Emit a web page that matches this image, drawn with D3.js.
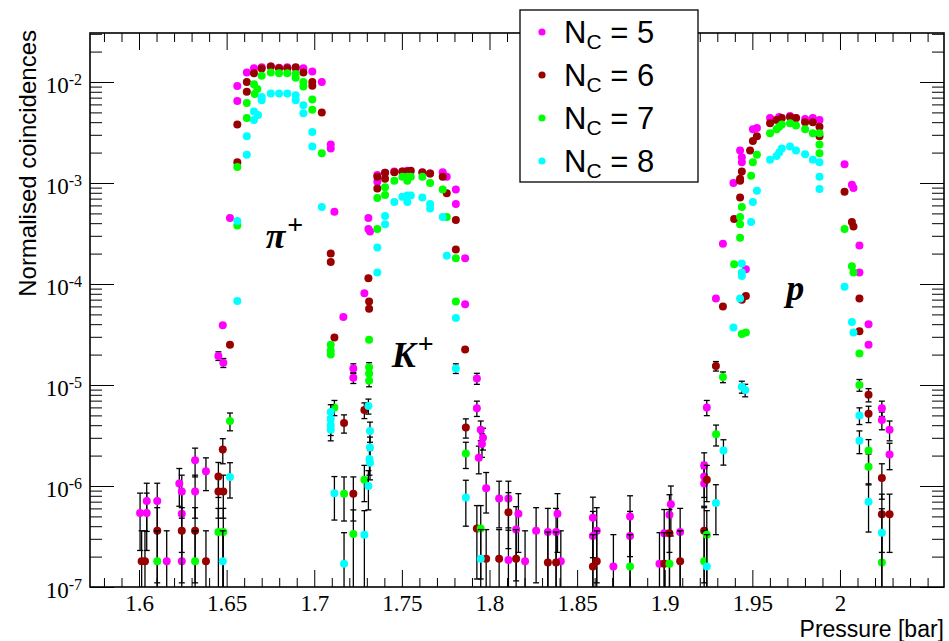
<!DOCTYPE html>
<html><head><meta charset="utf-8">
<script src="https://cdn.jsdelivr.net/npm/d3@7"></script>
<style>body{margin:0;background:#fff} svg{display:block}</style>
</head><body>
<svg id="c" width="949" height="641"></svg>
<script>
// [pressure (bar), normalised coincidences, error]
const nc5 = [
[1.6006,5.4e-7,3.1e-7],[1.6044,5.4e-7,3.1e-7],[1.6044,7.1e-7,3.55e-7],[1.6104,7.1e-7,3.55e-7],
[1.6158,1.8e-7,1.8e-7],[1.6230,1.06e-6,4.3e-7],[1.6244,8.8e-7,4.0e-7],[1.6244,5.3e-7,3.1e-7],
[1.6244,1.8e-7,1.8e-7],[1.6320,1.8e-6,5.7e-7],[1.6320,8.8e-7,4.0e-7],[1.6382,1.4e-6,5.0e-7],
[1.6453,1.94e-5,1.9e-6],[1.6481,1.66e-5,1.7e-6],[1.6478,3.9e-5,0],[1.6519,4.5e-4,0],
[1.6561,9.1e-3,0],[1.6561,6.5e-3,0],[1.6615,1.24e-2,0],[1.6656,1.37e-2,0],[1.6700,1.40e-2,0],
[1.6752,1.42e-2,0],[1.6799,1.38e-2,0],[1.6846,1.40e-2,0],[1.6894,1.37e-2,0],[1.6938,1.37e-2,0],
[1.6989,1.27e-2,0],[1.7043,1.0e-2,0],[1.7094,2.4e-3,0],[1.7094,2.2e-3,0],[1.7115,5.2e-4,0],
[1.7166,4.7e-5,0],[1.7223,1.46e-5,1.6e-6],[1.7223,1.18e-5,1.45e-6],[1.7286,8.1e-5,0],
[1.7309,4.5e-4,0],[1.7309,3.5e-4,0],[1.7318,3.3e-4,0],[1.7360,1.2e-3,0],[1.7360,1.03e-3,0],
[1.7404,1.26e-3,0],[1.7457,1.3e-3,0],[1.7503,1.3e-3,0],[1.7531,1.32e-3,0],[1.7617,1.28e-3,0],
[1.7661,1.24e-3,0],[1.7733,1.28e-3,0],[1.7756,1.15e-3,0],[1.7808,8.6e-4,0],[1.7808,6.2e-4,0],
[1.7861,1.8e-4,0],[1.7861,6.3e-5,0],[1.7928,1.16e-5,1.45e-6],[1.7928,5.9e-6,1.02e-6],
[1.7950,3.6e-6,8e-7],[1.7963,3.0e-6,7.3e-7],[1.7957,2.6e-6,6.8e-7],[1.7939,1.9e-6,5.8e-7],
[1.7981,9.5e-7,4.1e-7],[1.8055,7.5e-7,3.65e-7],[1.8108,7.5e-7,3.65e-7],[1.8108,1.85e-7,1.8e-7],
[1.8165,5.3e-7,3.1e-7],[1.8152,3.7e-7,2.55e-7],[1.8203,1.8e-7,1.8e-7],[1.8266,3.6e-7,2.5e-7],
[1.8333,3.5e-7,2.5e-7],[1.8380,3.5e-7,2.5e-7],[1.8388,5.3e-7,3.1e-7],[1.8407,1.8e-7,1.8e-7],
[1.8590,4.85e-7,2.9e-7],[1.8590,3.2e-7,2.4e-7],[1.8612,3.6e-7,2.5e-7],[1.8707,1.6e-7,1.7e-7],
[1.8802,5.0e-7,3.0e-7],[1.8802,3.2e-7,2.4e-7],[1.8970,1.7e-7,1.75e-7],[1.8997,3.4e-7,2.45e-7],
[1.9027,5.2e-7,3.0e-7],[1.9035,6.6e-7,3.4e-7],[1.9088,3.5e-7,2.5e-7],[1.9225,1.6e-6,5.3e-7],
[1.9225,1.24e-6,4.7e-7],[1.9225,1.06e-6,4.3e-7],[1.9240,6.0e-6,1.03e-6],[1.9292,7.2e-5,0],
[1.9332,2.5e-4,0],[1.9392,1.0e-3,0],[1.9463,1.4e-4,0],[1.9430,2.1e-3,0],[1.9440,1.8e-3,0],
[1.9440,1.6e-3,0],[1.9503,3.4e-3,0],[1.9526,3.5e-3,0],[1.9601,4.4e-3,0],[1.9653,4.5e-3,0],
[1.9715,4.6e-3,0],[1.9749,4.4e-3,0],[1.9801,4.3e-3,0],[1.9845,4.4e-3,0],[1.9883,4.2e-3,0],
[2.0026,1.53e-3,0],[2.0068,9.6e-4,0],[2.0077,8.9e-4,0],[2.0111,2.4e-4,0],[2.0111,1.3e-4,0],
[2.0163,4.0e-5,0],[2.0163,2.5e-5,0],[2.0239,5.9e-6,1.02e-6],[2.0239,4.5e-6,9e-7],
[2.0283,3.6e-6,8e-7],[2.0283,2.05e-6,6e-7]
];
const nc6 = [
[1.6015,1.8e-7,1.8e-7],[1.6034,1.8e-7,1.8e-7],[1.6104,3.6e-7,2.5e-7],[1.6244,3.6e-7,2.5e-7],
[1.6320,3.6e-7,2.5e-7],[1.6382,1.8e-7,1.8e-7],[1.6453,1.24e-6,4.7e-7],[1.6453,8.8e-7,4.0e-7],
[1.6481,8.8e-7,4.0e-7],[1.6478,2.3e-6,6.4e-7],[1.6519,2.5e-5,0],[1.6561,3.8e-3,0],
[1.6561,1.6e-3,0],[1.6615,1.0e-2,0],[1.6615,8.0e-3,0],[1.6656,1.22e-2,0],[1.6700,1.36e-2,0],
[1.6752,1.42e-2,0],[1.6799,1.37e-2,0],[1.6846,1.37e-2,0],[1.6894,1.40e-2,0],[1.6938,1.24e-2,0],
[1.6989,1.0e-2,0],[1.6989,9.2e-3,0],[1.7043,5.0e-3,0],[1.7094,2.0e-4,0],[1.7094,1.65e-4,0],
[1.7115,2.95e-5,0],[1.7170,4.2e-6,8.6e-7],[1.7223,8.4e-7,3.9e-7],[1.7286,5.65e-6,1.0e-6],
[1.7309,1.14e-4,0],[1.7313,6.7e-5,0],[1.7313,5.7e-5,0],[1.7360,1.15e-3,0],[1.7360,8.8e-4,0],
[1.7404,1.26e-3,0],[1.7404,1.1e-3,0],[1.7457,1.28e-3,0],[1.7503,1.3e-3,0],[1.7531,1.3e-3,0],
[1.7551,1.32e-3,0],[1.7617,1.27e-3,0],[1.7661,1.24e-3,0],[1.7733,1.15e-3,0],[1.7756,7.9e-4,0],
[1.7808,4.3e-4,0],[1.7808,2.2e-4,0],[1.7861,2.25e-5,0],[1.7865,3.8e-6,8.2e-7],
[1.7928,3.8e-7,2.6e-7],[1.7981,1.9e-7,1.8e-7],[1.8055,1.9e-7,1.8e-7],[1.8108,5.5e-7,3.1e-7],
[1.8152,1.9e-7,1.8e-7],[1.8333,1.75e-7,1.75e-7],[1.8380,1.75e-7,1.75e-7],[1.8590,1.6e-7,1.7e-7],
[1.8612,1.8e-7,1.8e-7],[1.8997,1.7e-7,1.75e-7],[1.9027,3.4e-7,2.45e-7],[1.9088,1.8e-7,1.8e-7],
[1.9225,3.6e-7,2.5e-7],[1.9240,1.15e-6,4.5e-7],[1.9292,1.54e-5,1.66e-6],[1.9332,6.0e-5,0],
[1.9396,4.4e-4,0],[1.9430,7.2e-4,0],[1.9430,1.1e-3,0],[1.9430,1.05e-3,0],[1.9440,1.3e-3,0],
[1.9440,7.0e-5,0],[1.9463,7.6e-5,0],[1.9487,2.1e-3,0],[1.9503,2.6e-3,0],[1.9526,2.9e-3,0],
[1.9601,3.9e-3,0],[1.9638,4.2e-3,0],[1.9668,4.4e-3,0],[1.9715,4.5e-3,0],[1.9749,4.4e-3,0],
[1.9801,4.0e-3,0],[1.9845,4.0e-3,0],[1.9883,3.6e-3,0],[1.9883,2.9e-3,0],[2.0026,8.2e-4,0],
[2.0068,4.1e-4,0],[2.0077,3.7e-4,0],[2.0111,7.2e-5,0],[2.0111,3.4e-5,0],[2.0163,8.0e-6,1.2e-6],
[2.0163,5.2e-6,9.6e-7],[2.0239,1.2e-6,4.6e-7],[2.0239,5.25e-7,3.05e-7],[2.0283,5.25e-7,3.05e-7]
];
const nc7 = [
[1.6104,1.8e-7,1.8e-7],[1.6320,1.8e-7,1.8e-7],[1.6453,3.5e-7,2.5e-7],[1.6481,3.5e-7,2.5e-7],
[1.6519,4.4e-6,8.8e-7],[1.6561,1.44e-3,0],[1.6561,3.8e-4,0],[1.6615,6.2e-3,0],[1.6615,4.4e-3,0],
[1.6656,9.5e-3,0],[1.6675,8.5e-3,0],[1.6660,7.6e-3,0],[1.6700,1.15e-2,0],[1.6752,1.24e-2,0],
[1.6799,1.22e-2,0],[1.6846,1.22e-2,0],[1.6894,1.2e-2,0],[1.6894,1.1e-2,0],[1.6938,1.0e-2,0],
[1.6938,9.0e-3,0],[1.6989,6.7e-3,0],[1.6989,5.3e-3,0],[1.7043,1.97e-3,0],[1.7094,2.5e-5,0],
[1.7094,2.2e-5,0],[1.7094,2.0e-5,0],[1.7115,6.0e-6,1.03e-6],[1.7170,8.4e-7,3.9e-7],
[1.7223,3.35e-7,2.45e-7],[1.7286,1.15e-6,4.5e-7],[1.7313,2.8e-5,0],[1.7313,1.5e-5,1.63e-6],
[1.7313,1.3e-5,1.5e-6],[1.7313,1.1e-5,1.4e-6],[1.7360,7.1e-4,0],[1.7360,3.5e-4,0],
[1.7404,9.1e-4,0],[1.7404,7.6e-4,0],[1.7457,1.05e-3,0],[1.7503,1.15e-3,0],[1.7531,1.15e-3,0],
[1.7531,1.05e-3,0],[1.7551,1.15e-3,0],[1.7617,1.15e-3,0],[1.7661,1.0e-3,0],[1.7733,8.6e-4,0],
[1.7756,4.6e-4,0],[1.7808,1.8e-4,0],[1.7808,6.7e-5,0],[1.7865,2.1e-6,6.1e-7],
[1.7950,3.8e-7,2.6e-7],[1.8802,1.6e-7,1.7e-7],[1.9027,1.7e-7,1.75e-7],[1.9225,1.8e-7,1.8e-7],
[1.9240,3.3e-7,2.4e-7],[1.9293,3.25e-6,7.6e-7],[1.9332,1.2e-5,1.46e-6],[1.9440,3.2e-5,0],
[1.9463,3.3e-5,0],[1.9396,1.57e-4,0],[1.9430,2.87e-4,0],[1.9430,4.6e-4,0],[1.9430,3.9e-4,0],
[1.9440,5.8e-4,0],[1.9493,1.18e-3,0],[1.9503,1.6e-3,0],[1.9526,1.9e-3,0],[1.9601,3.1e-3,0],
[1.9638,3.4e-3,0],[1.9653,3.6e-3,0],[1.9668,3.8e-3,0],[1.9715,3.9e-3,0],[1.9749,3.7e-3,0],
[1.9801,3.4e-3,0],[1.9845,3.1e-3,0],[1.9883,3.1e-3,0],[1.9883,2.4e-3,0],[1.9883,1.97e-3,0],
[2.0026,3.5e-4,0],[2.0068,1.5e-4,0],[2.0077,1.3e-4,0],[2.0111,2.05e-5,0],[2.0111,1.0e-5,1.33e-6],
[2.0163,2.25e-6,6.3e-7],[2.0163,1.55e-6,5.25e-7],[2.0239,1.75e-7,1.75e-7]
];
const nc8 = [
[1.6478,1.8e-7,1.8e-7],[1.6519,1.23e-6,4.7e-7],[1.6561,4.2e-4,0],[1.6561,6.8e-5,0],
[1.6615,2.9e-3,0],[1.6615,1.9e-3,0],[1.6656,5.1e-3,0],[1.6656,4.2e-3,0],[1.6679,4.7e-3,0],
[1.6700,7.1e-3,0],[1.6700,6.6e-3,0],[1.6752,7.7e-3,0],[1.6799,7.7e-3,0],[1.6846,7.7e-3,0],
[1.6894,7.4e-3,0],[1.6894,6.6e-3,0],[1.6938,5.9e-3,0],[1.6938,4.9e-3,0],[1.6989,3.2e-3,0],
[1.6989,2.3e-3,0],[1.7043,5.8e-4,0],[1.7094,5.4e-6,9.8e-7],[1.7094,4.6e-6,9e-7],
[1.7094,4.0e-6,8.4e-7],[1.7094,3.6e-6,8e-7],[1.7115,8.5e-7,3.9e-7],[1.7170,1.7e-7,1.75e-7],
[1.7286,3.3e-7,2.4e-7],[1.7309,6.2e-6,1.05e-6],[1.7309,1.0e-6,4.2e-7],[1.7318,3.5e-6,7.9e-7],
[1.7318,2.4e-6,6.5e-7],[1.7315,1.85e-6,5.7e-7],[1.7318,1.7e-6,5.5e-7],[1.7360,2.3e-4,0],
[1.7360,1.3e-4,0],[1.7404,4.7e-4,0],[1.7404,3.9e-4,0],[1.7457,6.5e-4,0],[1.7503,7.3e-4,0],
[1.7531,7.5e-4,0],[1.7531,6.5e-4,0],[1.7551,7.5e-4,0],[1.7617,7.2e-4,0],[1.7661,6.2e-4,0],
[1.7661,5.6e-4,0],[1.7733,4.6e-4,0],[1.7756,1.9e-4,0],[1.7808,4.6e-5,0],[1.7808,1.46e-5,1.6e-6],
[1.7865,7.7e-7,3.7e-7],[1.7950,1.9e-7,1.8e-7],[1.9240,1.6e-7,1.7e-7],[1.9292,6.8e-7,3.5e-7],
[1.9335,2.24e-6,6.3e-7],[1.9440,9.6e-6,1.3e-6],[1.9459,8.9e-6,1.26e-6],[1.9392,3.7e-5,0],
[1.9430,7.2e-5,0],[1.9440,1.6e-4,0],[1.9440,1.3e-4,0],[1.9440,1.2e-4,0],[1.9493,4.1e-4,0],
[1.9503,6.5e-4,0],[1.9526,8.4e-4,0],[1.9601,1.7e-3,0],[1.9638,1.85e-3,0],[1.9653,2.0e-3,0],
[1.9668,2.2e-3,0],[1.9715,2.3e-3,0],[1.9749,2.1e-3,0],[1.9801,1.93e-3,0],[1.9845,1.7e-3,0],
[1.9883,1.6e-3,0],[1.9883,1.15e-3,0],[1.9883,8.7e-4,0],[2.0026,9.4e-5,0],[2.0068,4.2e-5,0],
[2.0077,3.3e-5,0],[2.0111,5.0e-6,9.4e-7],[2.0111,2.8e-6,7.1e-7],[2.0163,7.0e-7,3.5e-7],
[2.0239,3.45e-7,2.5e-7]
];
const seriesData = [nc5, nc6, nc7, nc8];
const seriesLabels = ["5", "6", "7", "8"];
const seriesColors = ["#ff00ff", "#990000", "#00ff00", "#00ffff"];
const xMajorTicks = [1.6, 1.65, 1.7, 1.75, 1.8, 1.85, 1.9, 1.95, 2.0];
const yMajorTicks = [1e-7, 1e-6, 1e-5, 1e-4, 1e-3, 1e-2];
const yTickExponents = ["-7", "-6", "-5", "-4", "-3", "-2"];
const peakLabels = [
  {base: "\u03c0", sup: "+", p: 1.6723, v: 2.27e-4},
  {base: "K", sup: "+", p: 1.7442, v: 1.5e-5},
  {base: "p", sup: "", p: 1.9693, v: 6.95e-5}
];

const W = 949, H = 641;
const m = {l: 90, r: 944, t: 33, b: 587};
const x = d3.scaleLinear().domain([1.57203, 2.05936]).range([m.l, m.r]);
const y = d3.scaleLog().domain([1e-7, 0.03055]).range([m.b, m.t]);
const svg = d3.select("#c");
svg.append("rect").attr("width", W).attr("height", H).attr("fill", "#fff");

const serif = "'Liberation Serif','Times New Roman',serif";
const sans = "'Liberation Sans',Arial,Helvetica,sans-serif";

// minor tick values
const xMinor = d3.range(158, 206).map(i => i / 100).filter(v => !xMajorTicks.some(t => Math.abs(t - v) < 1e-6));
const yMinor = [];
yMajorTicks.forEach(d => { for (let k = 2; k <= 9; k++) { const v = k * d; if (v <= y.domain()[1]) yMinor.push(v); } });

function clean(g) { g.select(".domain").remove(); g.selectAll("line").attr("stroke", "#000").attr("stroke-width", 1); }

// bottom axis
svg.append("g").attr("transform", `translate(0,${m.b})`)
  .call(d3.axisBottom(x).tickValues(xMajorTicks).tickSize(-17).tickSizeOuter(0).tickPadding(8)
    .tickFormat(d => String(+d.toFixed(2))))
  .call(clean)
  .call(g => g.selectAll("text").attr("font-family", serif).attr("font-size", 23).attr("fill", "#000"));
svg.append("g").attr("transform", `translate(0,${m.b})`)
  .call(d3.axisBottom(x).tickValues(xMinor).tickSize(-9).tickSizeOuter(0).tickFormat(""))
  .call(clean);
// top axis
svg.append("g").attr("transform", `translate(0,${m.t})`)
  .call(d3.axisTop(x).tickValues(xMajorTicks).tickSize(-17).tickSizeOuter(0).tickFormat(""))
  .call(clean);
svg.append("g").attr("transform", `translate(0,${m.t})`)
  .call(d3.axisTop(x).tickValues(xMinor).tickSize(-9).tickSizeOuter(0).tickFormat(""))
  .call(clean);
// left axis
const gy = svg.append("g").attr("transform", `translate(${m.l},0)`)
  .call(d3.axisLeft(y).tickValues(yMajorTicks).tickSize(-24).tickSizeOuter(0).tickPadding(8).tickFormat(() => "10"))
  .call(clean);
gy.selectAll("text").attr("font-family", serif).attr("font-size", 23).attr("fill", "#000").attr("dy", "0.46em")
  .each(function(d, i) {
    d3.select(this).append("tspan").attr("font-size", 16).attr("dy", -8).text(yTickExponents[i]);
  });
svg.append("g").attr("transform", `translate(${m.l},0)`)
  .call(d3.axisLeft(y).tickValues(yMinor).tickSize(-12).tickSizeOuter(0).tickFormat(""))
  .call(clean);
// right axis
svg.append("g").attr("transform", `translate(${m.r},0)`)
  .call(d3.axisRight(y).tickValues(yMajorTicks).tickSize(-24).tickSizeOuter(0).tickFormat(""))
  .call(clean);
svg.append("g").attr("transform", `translate(${m.r},0)`)
  .call(d3.axisRight(y).tickValues(yMinor).tickSize(-12).tickSizeOuter(0).tickFormat(""))
  .call(clean);

// frame
svg.append("rect").attr("x", m.l).attr("y", m.t).attr("width", m.r - m.l).attr("height", m.b - m.t)
  .attr("fill", "none").attr("stroke", "#000").attr("stroke-width", 1.6);

// axis titles
svg.append("text").attr("x", m.r).attr("y", 637).attr("text-anchor", "end")
  .attr("font-family", sans).attr("font-size", 23).text("Pressure [bar]");
svg.append("text").attr("transform", "translate(36,30) rotate(-90)").attr("text-anchor", "end")
  .attr("font-family", sans).attr("font-size", 24).text("Normalised coincidences");

// clip
svg.append("clipPath").attr("id", "clip").append("rect")
  .attr("x", m.l).attr("y", m.t).attr("width", m.r - m.l).attr("height", m.b - m.t);
const plot = svg.append("g").attr("clip-path", "url(#clip)");

// peak labels
const lab = svg.append("g");
peakLabels.forEach(pl => {
  const t = lab.append("text").attr("x", x(pl.p)).attr("y", y(pl.v))
    .attr("font-family", serif).attr("font-size", 36).attr("font-weight", "bold").attr("font-style", "italic")
    .text(pl.base);
  if (pl.sup) t.append("tspan").attr("font-size", 28).attr("font-style", "normal").attr("dy", -14).attr("dx", 2).text(pl.sup);
});

// series
const cap = 3;
seriesData.forEach((data, si) => {
  const g = plot.append("g");
  data.filter(d => d[2] > 0).forEach(d => {
    const px = x(d[0]);
    const lo = d[1] - d[2];
    const yTop = y(d[1] + d[2]);
    const yBot = lo > y.domain()[0] ? y(lo) : m.b + 2;
    g.append("line").attr("x1", px).attr("x2", px).attr("y1", yTop).attr("y2", yBot)
      .attr("stroke", "#000").attr("stroke-width", 1.3);
    g.append("line").attr("x1", px - cap).attr("x2", px + cap).attr("y1", yTop).attr("y2", yTop)
      .attr("stroke", "#000").attr("stroke-width", 1.3);
    if (lo > y.domain()[0]) g.append("line").attr("x1", px - cap).attr("x2", px + cap).attr("y1", yBot).attr("y2", yBot)
      .attr("stroke", "#000").attr("stroke-width", 1.3);
  });
  g.selectAll("circle").data(data).join("circle")
    .attr("cx", d => x(d[0])).attr("cy", d => y(d[1])).attr("r", 4)
    .attr("fill", seriesColors[si]);
});

// legend
const leg = svg.append("g");
leg.append("rect").attr("x", 520).attr("y", 10).attr("width", 178).attr("height", 172)
  .attr("fill", "#fff").attr("stroke", "#000").attr("stroke-width", 1.3);
seriesLabels.forEach((s, i) => {
  const cy = 32 + i * 43;
  leg.append("circle").attr("cx", 542).attr("cy", cy).attr("r", 3.6).attr("fill", seriesColors[i]);
  const t = leg.append("text").attr("x", 564).attr("y", cy + 11).attr("font-family", sans).attr("font-size", 31).text("N");
  t.append("tspan").attr("font-size", 21).attr("dy", 6).text("C");
  t.append("tspan").attr("dy", -6).text(" = " + s);
});
</script>
</body></html>
